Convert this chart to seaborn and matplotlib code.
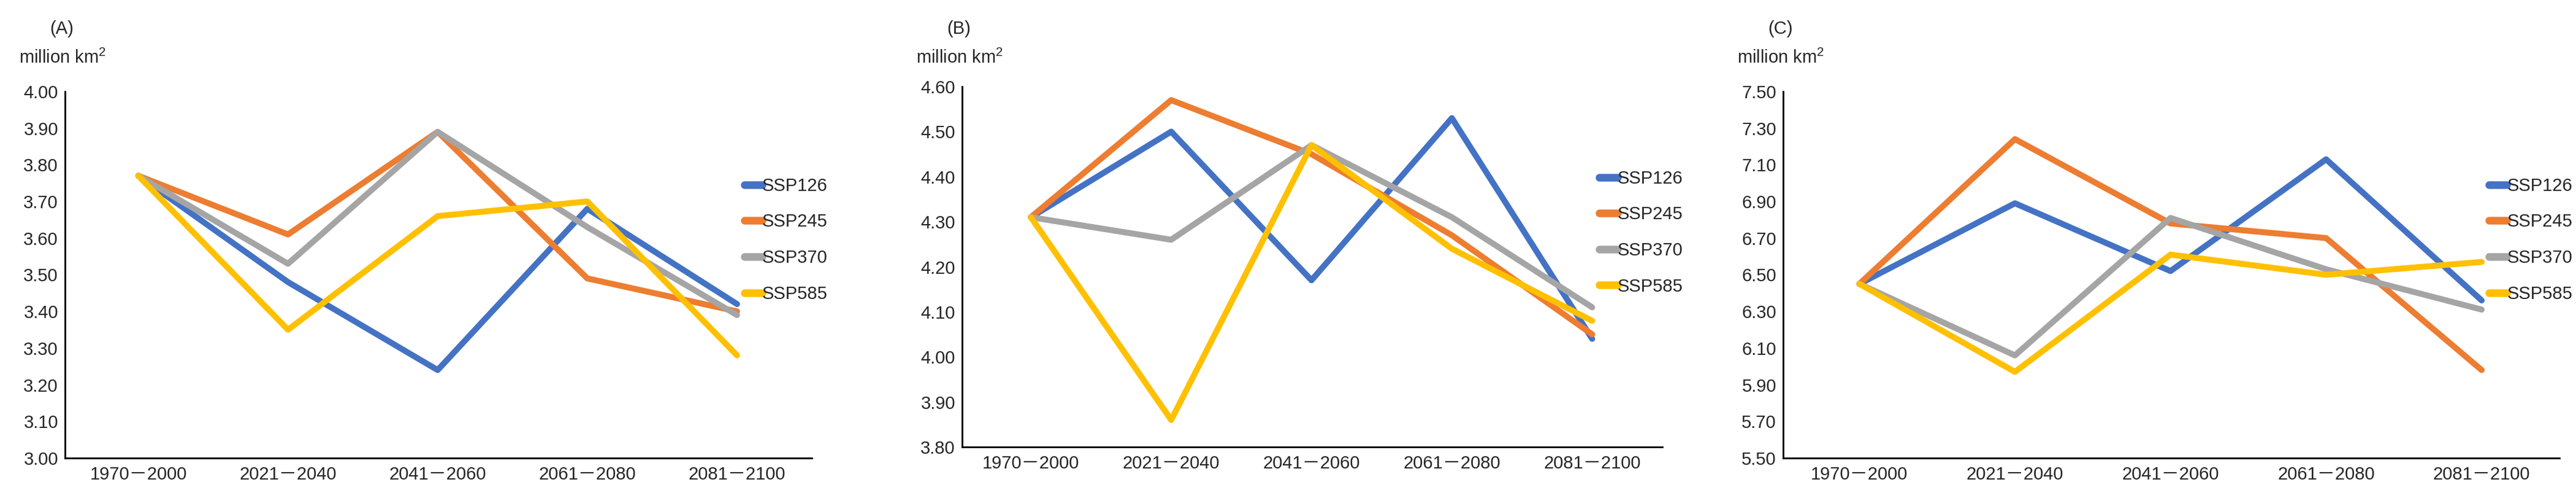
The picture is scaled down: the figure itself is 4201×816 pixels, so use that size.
import matplotlib
matplotlib.use("Agg")
import matplotlib.pyplot as plt
import seaborn as sns
import pandas as pd

periods = ["1970－2000", "2021－2040", "2041－2060", "2061－2080", "2081－2100"]
scenarios = ["SSP126", "SSP245", "SSP370", "SSP585"]
colors = ["#4472C4", "#ED7D31", "#A5A5A5", "#FFC000"]

a_ssp126 = [3.77, 3.48, 3.24, 3.68, 3.42]
a_ssp245 = [3.77, 3.61, 3.89, 3.49, 3.40]
a_ssp370 = [3.77, 3.53, 3.89, 3.63, 3.39]
a_ssp585 = [3.77, 3.35, 3.66, 3.70, 3.28]

b_ssp126 = [4.31, 4.50, 4.17, 4.53, 4.04]
b_ssp245 = [4.31, 4.57, 4.45, 4.27, 4.05]
b_ssp370 = [4.31, 4.26, 4.47, 4.31, 4.11]
b_ssp585 = [4.31, 3.86, 4.47, 4.24, 4.08]

c_ssp126 = [6.45, 6.89, 6.52, 7.13, 6.36]
c_ssp245 = [6.45, 7.24, 6.78, 6.70, 5.98]
c_ssp370 = [6.45, 6.06, 6.81, 6.53, 6.31]
c_ssp585 = [6.45, 5.97, 6.61, 6.50, 6.57]

panel_labels = ["(A)", "(B)", "(C)"]
unit = "million km$^2$"
a_ticks = [3.00, 3.10, 3.20, 3.30, 3.40, 3.50, 3.60, 3.70, 3.80, 3.90, 4.00]
b_ticks = [3.80, 3.90, 4.00, 4.10, 4.20, 4.30, 4.40, 4.50, 4.60]
c_ticks = [5.50, 5.70, 5.90, 6.10, 6.30, 6.50, 6.70, 6.90, 7.10, 7.30, 7.50]

panels = [
    ([a_ssp126, a_ssp245, a_ssp370, a_ssp585], a_ticks),
    ([b_ssp126, b_ssp245, b_ssp370, b_ssp585], b_ticks),
    ([c_ssp126, c_ssp245, c_ssp370, c_ssp585], c_ticks),
]

sns.set_style("white")
plt.rcParams["font.family"] = ["Liberation Sans Narrow", "Liberation Sans", "Noto Sans CJK SC", "DejaVu Sans"]
plt.rcParams["mathtext.fontset"] = "custom"
plt.rcParams["mathtext.rm"] = "Liberation Sans"

W, H = 4201, 816
fig = plt.figure(figsize=(W / 100, H / 100), dpi=100)
boxes = [(106, 149, 1324, 746), (1569, 141, 2711, 728), (2908, 149, 4174, 746)]

for i, ((series, ticks), (l, t, r, b)) in enumerate(zip(panels, boxes)):
    ax = fig.add_axes([l / W, 1 - b / H, (r - l) / W, (b - t) / H])
    rows = []
    for s, vals in zip(scenarios, series):
        for p, v in zip(periods, vals):
            rows.append({"period": p, "scenario": s, "value": v})
    df = pd.DataFrame(rows)
    sns.lineplot(data=df, x="period", y="value", hue="scenario", hue_order=scenarios,
                 palette=colors, linewidth=7, ax=ax, sort=False)
    ax.set_xlim(-0.49, 4.5)
    ax.set_ylim(ticks[0], ticks[-1])
    ax.set_yticks(ticks)
    ax.set_yticklabels([f"{v:.2f}" for v in ticks])
    ax.set_xlabel("")
    ax.set_ylabel("")
    for sp in ["top", "right"]:
        ax.spines[sp].set_visible(False)
    for sp in ["left", "bottom"]:
        ax.spines[sp].set_linewidth(2)
        ax.spines[sp].set_color("black")
    ax.tick_params(axis="both", labelsize=21, direction="out", length=6, width=1.5, color="black")
    ax.tick_params(axis="y", pad=2)
    leg = ax.legend(loc="center left", bbox_to_anchor=(0.9, 0.595), frameon=False,
                    fontsize=21, handlelength=1.0, handletextpad=0.0, labelspacing=1.05,
                    borderaxespad=0)
    for h in leg.get_lines():
        h.set_linewidth(9)
    fig.text((l - 25) / W, 1 - 47 / H, panel_labels[i], fontsize=21, ha="left", va="center")
    fig.text((l - 75) / W, 1 - 94 / H, unit, fontsize=21, ha="left", va="center")

fig.savefig("out.png", dpi=100)
